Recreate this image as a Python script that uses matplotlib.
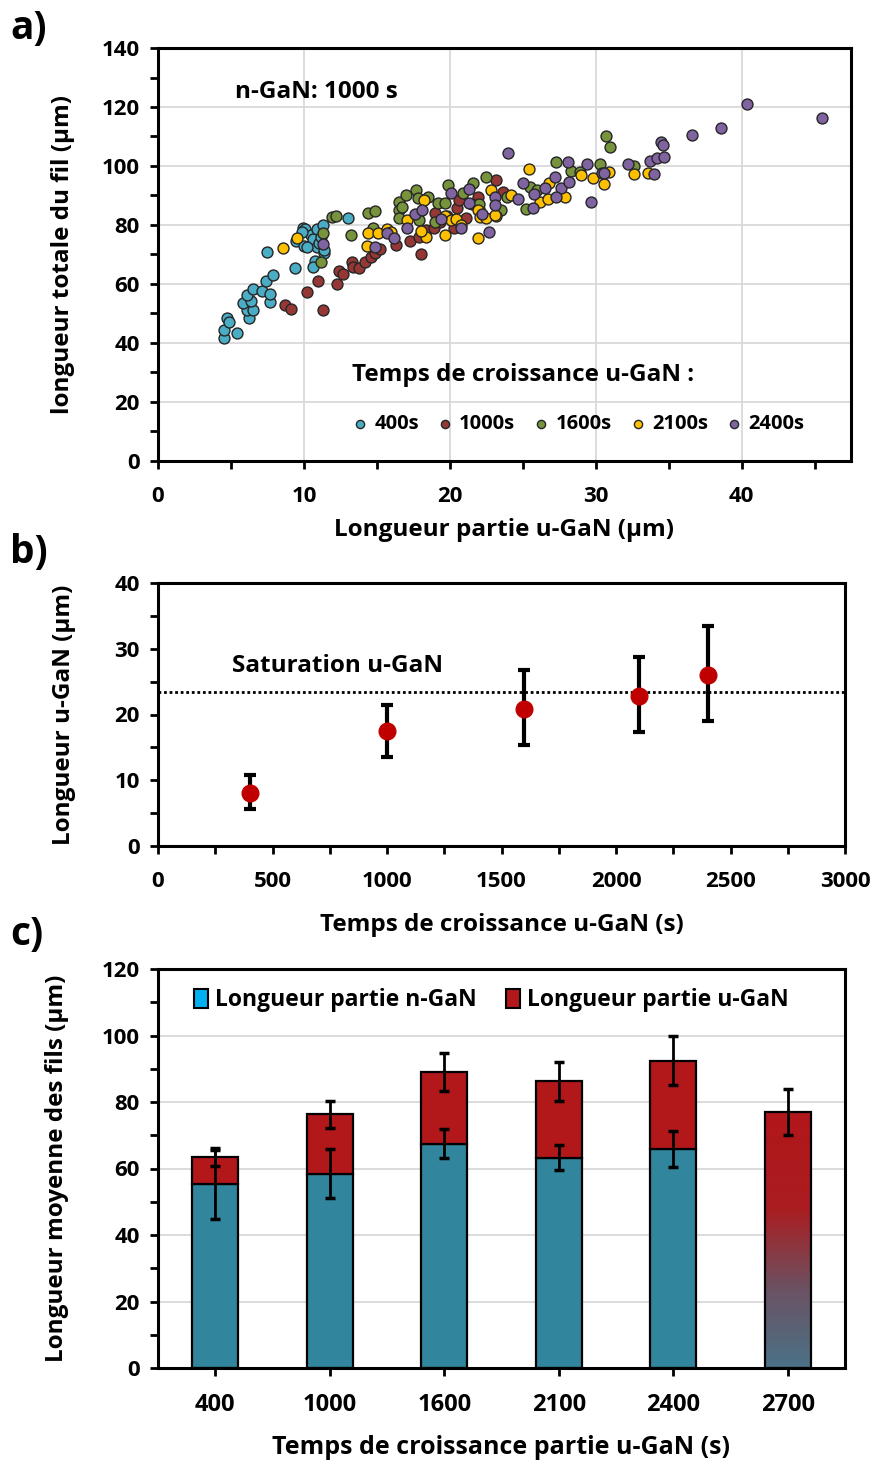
import matplotlib
matplotlib.use("Agg")
import matplotlib.pyplot as plt
import numpy as np
from matplotlib.patches import Patch
from matplotlib.colors import LinearSegmentedColormap
from matplotlib.ticker import MultipleLocator

plt.rcParams['font.family'] = ['Open Sans', 'DejaVu Sans']
plt.rcParams['font.weight'] = 'bold'
plt.rcParams['axes.labelweight'] = 'bold'

# ---- panel a : scatter, total wire length vs u-GaN length ----
series_labels = ['400s', '1000s', '1600s', '2100s', '2400s']
series_colors = ['#4BACC6', '#953735', '#77933C', '#FFC000', '#8064A2']

x_400 = [4.5, 4.5, 4.7, 4.9, 5.4, 6.25, 6.1, 6.5, 5.8, 6.4, 6.1, 6.5, 7.1, 7.7, 7.7, 7.4, 7.9, 7.5,
         9.4, 9.45, 10.0, 9.95, 10.1, 10.5, 10.6, 10.9, 11.3, 10.9, 11.4, 10.75, 10.6, 11.05, 10.2,
         11.4, 13.0, 9.9, 11.2]
y_400 = [41.6, 44.4, 48.4, 47.0, 43.3, 48.6, 51.2, 51.2, 53.7, 54.2, 56.3, 58.2, 57.6, 53.8, 56.5, 61.0, 63.0, 71.0,
         65.5, 74.7, 73.0, 78.9, 78.5, 76.6, 75.2, 78.5, 80.1, 72.4, 70.6, 67.8, 65.9, 73.8, 72.7,
         71.5, 82.5, 77.5, 76.0]

x_1000 = [8.7, 9.1, 10.2, 11.0, 11.3, 12.3, 12.4, 12.7, 13.3, 13.4, 13.8, 14.2, 14.6, 14.9, 15.2, 16.3,
          17.3, 18.0, 18.4, 18.9, 19.0, 19.3, 20.3, 20.5, 20.6, 21.1, 21.9, 23.2, 23.65, 22.0, 19.8,
          17.9, 21.5]
y_1000 = [52.9, 51.5, 57.4, 61.1, 51.2, 60.0, 64.5, 63.4, 67.6, 65.7, 65.3, 67.6, 69.0, 70.4, 71.8, 73.2,
          74.7, 70.2, 78.3, 78.9, 84.0, 81.1, 78.9, 85.7, 88.5, 82.3, 89.6, 95.3, 91.3, 85.5, 83.0,
          76.0, 87.0]

x_1600 = [11.2, 11.3, 11.9, 12.2, 13.2, 14.4, 14.9, 14.75, 16.5, 16.5, 16.5, 16.7, 17.0, 17.7, 17.8,
          18.5, 17.9, 19.2, 19.7, 19.9, 20.9, 21.6, 22.5, 19.0, 23.5, 23.9, 25.2, 25.5, 27.3, 28.3,
          28.9, 30.3, 30.7, 31.0, 32.6, 22.0, 26.0]
y_1600 = [67.5, 77.2, 82.8, 83.0, 76.6, 84.2, 84.7, 78.9, 87.9, 85.0, 82.3, 86.2, 90.2, 91.9, 89.0,
          89.6, 81.7, 87.3, 87.3, 93.6, 90.7, 94.1, 96.4, 81.1, 85.1, 89.6, 85.3, 93.0, 101.3, 98.3,
          98.1, 100.6, 110.0, 106.3, 100.0, 87.0, 92.0]

x_2100 = [8.6, 9.5, 14.3, 14.4, 15.1, 15.7, 16.0, 17.1, 18.2, 18.4, 19.7, 19.7, 20.1, 20.4, 21.9, 22.1,
          22.5, 23.2, 22.8, 21.9, 25.4, 24.2, 26.2, 26.7, 27.9, 29.0, 29.8, 30.6, 26.8, 30.9, 32.6,
          33.6, 23.1, 20.8, 18.0]
y_2100 = [72.1, 75.7, 72.9, 77.2, 77.2, 78.5, 77.5, 81.7, 88.5, 76.1, 76.6, 83.0, 81.7, 81.9, 85.1, 82.8,
          82.3, 83.0, 91.9, 75.5, 98.9, 90.2, 87.9, 88.8, 89.4, 97.0, 95.8, 93.8, 94.1, 98.1, 97.3,
          97.7, 83.4, 80.0, 78.0]

x_2400 = [11.3, 14.9, 15.7, 16.2, 17.1, 17.6, 18.1, 20.1, 21.3, 19.4, 20.8, 21.3, 22.2, 22.7, 23.1,
          23.1, 24.0, 24.7, 25.0, 25.7, 25.8, 26.5, 27.2, 27.6, 28.2, 28.1, 27.3, 29.4, 29.7, 30.4,
          30.6, 32.2, 33.7, 34.2, 34.7, 34.0, 34.5, 34.6, 36.6, 38.6, 40.4, 45.5]
y_2400 = [73.4, 72.7, 77.2, 75.5, 78.9, 83.7, 85.1, 90.7, 92.1, 81.9, 78.9, 87.3, 83.7, 77.7, 89.6,
          86.8, 104.5, 88.7, 94.3, 85.6, 90.5, 92.6, 96.4, 92.6, 94.5, 101.5, 89.4, 100.6, 87.9, 97.7,
          97.7, 100.7, 101.8, 102.6, 102.9, 97.3, 108.2, 107.1, 110.5, 113.0, 121.0, 116.2]

# ---- panel b : u-GaN length vs growth time ----
t_b = [400, 1000, 1600, 2100, 2400]
ugan_b = [8.1, 17.5, 20.9, 22.8, 26.0]
ugan_b_lo = [5.7, 13.6, 15.3, 17.3, 19.0]
ugan_b_hi = [10.8, 21.5, 26.8, 28.7, 33.4]
saturation = 23.4

# ---- panel c : stacked mean lengths ----
cats_c = ['400', '1000', '1600', '2100', '2400', '2700']
ngan_c = [55.2, 58.4, 67.5, 63.3, 65.9]
ngan_err = [10.4, 7.4, 4.3, 3.7, 5.5]
total_c = [63.5, 76.3, 88.9, 86.2, 92.4, 77.0]
total_err = [2.8, 4.0, 5.7, 5.8, 7.4, 6.9]

W, H = 873, 1464
fig = plt.figure(figsize=(W / 100, H / 100), dpi=100)

LBL = 17.5   # axis label size
TCK = 16     # tick label size


def ax_rect(l, t, r, b):
    return [l / W, 1 - b / H, (r - l) / W, (b - t) / H]


def style_axes(ax):
    for s in ax.spines.values():
        s.set_linewidth(2.2)
        s.set_color('black')
    ax.tick_params(which='both', direction='out', length=6, width=2, labelsize=TCK, colors='black')
    ax.tick_params(axis='x', which='both', pad=12)
    ax.tick_params(axis='y', which='both', pad=7)
    for lab in ax.get_xticklabels() + ax.get_yticklabels():
        lab.set_fontweight('bold')


# panel a
ax = fig.add_axes(ax_rect(158, 48, 851, 461))
xs = [x_400, x_1000, x_1600, x_2100, x_2400]
ys = [y_400, y_1000, y_1600, y_2100, y_2400]
handles = []
for x, y, c, lab in zip(xs, ys, series_colors, series_labels):
    h = ax.scatter(x, y, s=62, c=c, edgecolors='#262626', linewidths=1.0, label=lab, zorder=3)
    handles.append(h)
ax.set_xlim(0, 47.5)
ax.set_ylim(0, 140)
ax.xaxis.set_major_locator(MultipleLocator(10))
ax.xaxis.set_minor_locator(MultipleLocator(5))
ax.yaxis.set_major_locator(MultipleLocator(20))
ax.yaxis.set_minor_locator(MultipleLocator(10))
ax.grid(True, which='major', color='#d9d9d9', linewidth=1.3, zorder=0)
ax.set_axisbelow(True)
style_axes(ax)
ax.set_xlabel('Longueur partie u-GaN (µm)', fontsize=LBL)
ax.set_ylabel('longueur totale du fil (µm)', fontsize=LBL)
ax.xaxis.set_label_coords(0.5, -0.137)
ax.yaxis.set_label_coords(-0.12, 0.5)
ax.text(5.3, 125, 'n-GaN: 1000 s', fontsize=LBL, va='center')
ax.text(0.28, 0.208, 'Temps de croissance u-GaN :', transform=ax.transAxes, fontsize=LBL, va='center')
ax.legend(handles=handles, ncol=5, loc='center left', bbox_to_anchor=(0.28, 0.09), frameon=False,
          fontsize=14.5, markerscale=0.75, handlelength=0.8, handletextpad=0.3, columnspacing=0.9,
          borderpad=0, borderaxespad=0)
fig.text(10 / W, 1 - 28 / H, 'a)', fontsize=28, fontweight='bold', va='center')

# panel b
ax = fig.add_axes(ax_rect(158, 583, 845, 846))
err_lo = np.array(ugan_b) - np.array(ugan_b_lo)
err_hi = np.array(ugan_b_hi) - np.array(ugan_b)
ax.errorbar(t_b, ugan_b, yerr=[err_lo, err_hi], fmt='o', color='#C00000', ms=12, mec='#C00000',
            ecolor='black', elinewidth=3, capsize=4, capthick=3, zorder=3)
ax.axhline(saturation, color='black', linestyle=(0, (1, 1)), linewidth=2, zorder=2)
ax.text(323, 27.4, 'Saturation u-GaN', fontsize=LBL, va='center')
ax.set_xlim(0, 3000)
ax.set_ylim(0, 40)
ax.xaxis.set_major_locator(MultipleLocator(500))
ax.xaxis.set_minor_locator(MultipleLocator(250))
ax.yaxis.set_major_locator(MultipleLocator(10))
ax.yaxis.set_minor_locator(MultipleLocator(5))
style_axes(ax)
ax.set_xlabel('Temps de croissance u-GaN (s)', fontsize=LBL)
ax.set_ylabel('Longueur u-GaN (µm)', fontsize=LBL)
ax.xaxis.set_label_coords(0.5, -0.255)
ax.yaxis.set_label_coords(-0.12, 0.5)
fig.text(10 / W, 1 - 552 / H, 'b)', fontsize=28, fontweight='bold', va='center')

# panel c
ax = fig.add_axes(ax_rect(158, 969, 845, 1368))
pos = np.arange(len(cats_c))
bw = 0.4
teal = '#31859C'
red = '#B2171A'
n = len(ngan_c)
ugan_c = np.array(total_c[:n]) - np.array(ngan_c)
ax.bar(pos[:n], ngan_c, bw, color=teal, edgecolor='black', linewidth=1.6, zorder=2)
ax.bar(pos[:n], ugan_c, bw, bottom=ngan_c, color=red, edgecolor='black', linewidth=1.6, zorder=2)
ax.errorbar(pos[:n], ngan_c, yerr=ngan_err, fmt='none', ecolor='black', elinewidth=2,
            capsize=3.5, capthick=2.5, zorder=4)
ax.errorbar(pos, total_c, yerr=total_err, fmt='none', ecolor='black', elinewidth=2,
            capsize=3.5, capthick=2.5, zorder=4)
# last bar: gradient fill from teal (bottom) to red (top)
grad = LinearSegmentedColormap.from_list('g', [(0, '#4B7287'), (0.3, '#6A5364'), (0.62, '#AA1D20'), (1, red)])
last = ax.bar(pos[-1], total_c[-1], bw, color='none', edgecolor='black', linewidth=1.6, zorder=3)[0]
img = ax.imshow(np.linspace(0, 1, 256).reshape(-1, 1), cmap=grad, origin='lower', aspect='auto',
                extent=[pos[-1] - bw / 2, pos[-1] + bw / 2, 0, total_c[-1]], zorder=2)
img.set_clip_path(last)
ax.set_xlim(-0.5, len(cats_c) - 0.5)
ax.set_ylim(0, 120)
ax.set_xticks(pos)
ax.set_xticklabels(cats_c)
ax.yaxis.set_major_locator(MultipleLocator(20))
ax.yaxis.set_minor_locator(MultipleLocator(10))
ax.grid(True, axis='y', which='major', color='#d9d9d9', linewidth=1.3, zorder=0)
ax.set_axisbelow(True)
style_axes(ax)
ax.tick_params(axis='x', labelsize=17, pad=12)
ax.set_xlabel('Temps de croissance partie u-GaN (s)', fontsize=LBL + 0.5)
ax.set_ylabel('Longueur moyenne des fils (µm)', fontsize=LBL)
ax.xaxis.set_label_coords(0.5, -0.168)
ax.yaxis.set_label_coords(-0.13, 0.5)
leg_handles = [Patch(facecolor='#00B0F0', edgecolor='black', linewidth=1.5),
               Patch(facecolor=red, edgecolor='black', linewidth=1.5)]
ax.legend(leg_handles, ['Longueur partie n-GaN', 'Longueur partie u-GaN'], ncol=2, loc='center left',
          bbox_to_anchor=(0.053, 0.922), frameon=False, fontsize=16.5, handlelength=0.6, handleheight=0.9,
          handletextpad=0.3, columnspacing=1.3, borderpad=0, borderaxespad=0)
fig.text(10 / W, 1 - 935 / H, 'c)', fontsize=28, fontweight='bold', va='center')

fig.savefig('out.png', dpi=100)
